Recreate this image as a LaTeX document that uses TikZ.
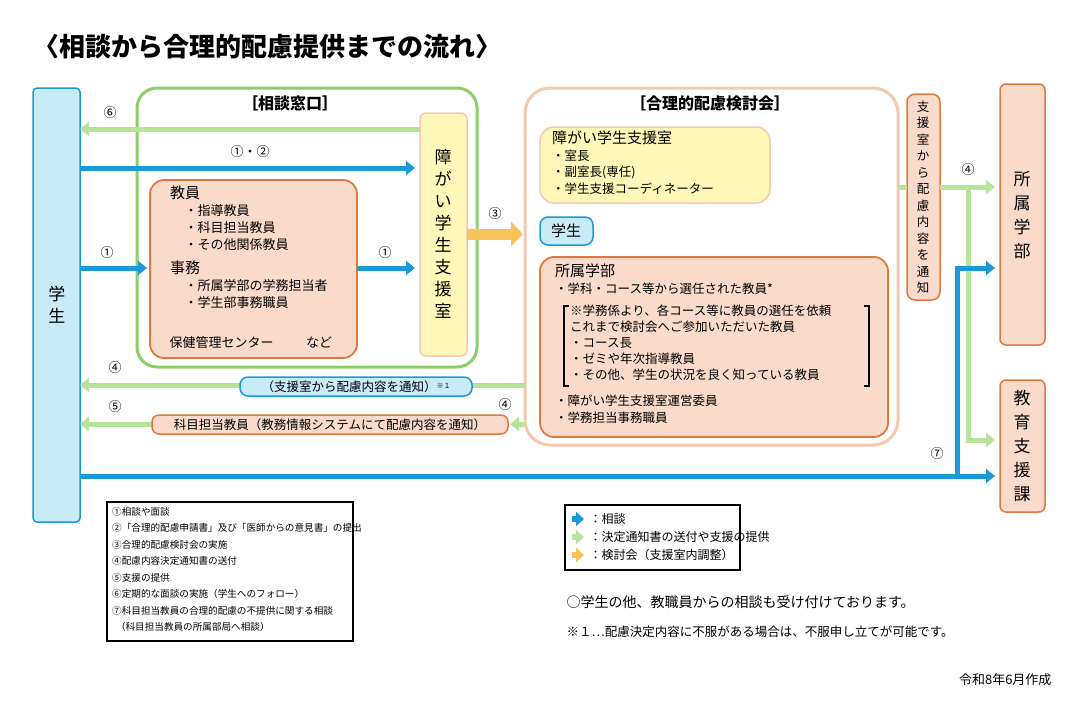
\documentclass[tikz,border=0pt]{standalone}
\usepackage{fontspec}
\setmainfont{Noto Sans CJK JP}
\usetikzlibrary{arrows.meta,calc}
\definecolor{bl}{HTML}{1A9AD6}\definecolor{lbl}{HTML}{C8EBF8}
\definecolor{gr}{HTML}{8CCF6A}\definecolor{lgr}{HTML}{B8E39A}
\definecolor{og}{HTML}{E07840}\definecolor{lor}{HTML}{FADBCB}
\definecolor{pk}{HTML}{F5C8B0}\definecolor{ye}{HTML}{FFF8B8}\definecolor{oa}{HTML}{FBC25A}
\begin{document}
\begin{tikzpicture}[x=1pt,y=-1pt,font=\fontsize{13}{15}\selectfont,
 box/.style={draw=og,line width=1.8pt,fill=lor,rounded corners=14pt},
 barr/.style={draw=bl,line width=5pt,-{Triangle[length=9pt,width=14pt]}},
 garr/.style={draw=lgr,line width=5pt,-{Triangle[length=9pt,width=14pt]}},
 num/.style={font=\fontsize{13}{13}\selectfont},
 lbl/.style={anchor=north west,align=left,inner sep=0pt}]
\useasboundingbox (0,0) rectangle (1080,702);
\fill[white] (0,0) rectangle (1080,702);
\node[anchor=west,font=\bfseries\fontsize{26}{26}\selectfont] (title) at (30,47) {〈相談から合理的配慮提供までの流れ〉};
% frames
\draw[gr,line width=3pt,rounded corners=20pt] (137,88) rectangle (477,367);
\node[font=\bfseries\fontsize{16}{16}\selectfont] (f1) at (290,103) {［相談窓口］};
\draw[pk,line width=3pt,rounded corners=25pt] (525,88) rectangle (898,445);
\node[font=\bfseries\fontsize{16}{16}\selectfont] (f2) at (710,103) {［合理的配慮検討会］};
% student
\draw[bl,line width=1.5pt,fill=lbl,rounded corners=4pt] (33,88) rectangle (80,522);
\node[align=center,font=\fontsize{17}{22}\selectfont] (st) at (57,305) {学\\生};
% support office
\draw[pk,line width=1.5pt,fill=ye,rounded corners=6pt] (420,113) rectangle (467,356);
\node[align=center,font=\fontsize{17}{22}\selectfont] (so) at (443,234) {障\\が\\い\\学\\生\\支\\援\\室};
% faculty box
\draw[box] (150,180) rectangle (357,358);
\node[lbl,font=\fontsize{13}{17}\selectfont] (fac) at (170,186) {{\fontsize{15}{17}\selectfont 教員}\\\hspace{1.1em}・指導教員\\\hspace{1.1em}・科目担当教員\\\hspace{1.1em}・その他関係教員\\[7pt]{\fontsize{15}{17}\selectfont 事務}\\\hspace{1.1em}・所属学部の学務担当者\\\hspace{1.1em}・学生部事務職員};
\node[anchor=west] (hk) at (166,343) {保健管理センター\hspace{2.5em}など};
% arrows left
\draw[garr] (420,129) -- (80,129); \node[num] at (110,113) {⑥};
\draw[barr] (80,168) -- (415,168); \node[num] at (250,152) {①・②};
\draw[barr] (80,268) -- (147,268); \node[num] at (107,253) {①};
\draw[barr] (357,268) -- (415,268); \node[num] at (385,253) {①};
\draw[draw=oa,line width=11pt,-{Triangle[length=12pt,width=24pt]}] (467,234) -- (523,234); \node[num] at (495,214) {③};
% committee content
\draw[pk,line width=1.5pt,fill=ye,rounded corners=14pt] (540,127) rectangle (770,203);
\node[lbl,font=\fontsize{12.5}{16.5}\selectfont] (yb) at (552,131) {{\fontsize{15}{17}\selectfont 障がい学生支援室}\\・室長\\・副室長(専任)\\・学生支援コーディネーター};
\draw[bl,line width=1.5pt,fill=lbl,rounded corners=8pt] (540,217) rectangle (593,245);
\node[font=\fontsize{15}{15}\selectfont] (st2) at (566,231) {学生};
\draw[box] (540,257) rectangle (888,437);
\node[lbl,font=\fontsize{12.5}{17}\selectfont] (sg) at (555,264) {{\fontsize{15}{17}\selectfont 所属学部}\\・学科・コース等から選任された教員*};
\node[lbl,font=\fontsize{12.5}{16}\selectfont] (sg2) at (570,305) {※学務係より、各コース等に教員の選任を依頼\\これまで検討会へご参加いただいた教員\\・コース長\\・ゼミや年次指導教員\\・その他、学生の状況を良く知っている教員};
\draw[line width=1.2pt] (569,306) -- (564,306) -- (564,386) -- (569,386);
\draw[line width=1.2pt] (864,306) -- (869,306) -- (869,386) -- (864,386);
\node[lbl,font=\fontsize{12.5}{17}\selectfont] (sg3) at (555,395) {・障がい学生支援室運営委員\\・学務担当事務職員};
% notify vertical
\draw[og,line width=1.5pt,fill=lor,rounded corners=8pt] (907,94) rectangle (940,300);
\node[align=center,font=\fontsize{12.5}{16.5}\selectfont] (nv) at (923,197) {支\\援\\室\\か\\ら\\配\\慮\\内\\容\\を\\通\\知};
% right boxes
\draw[og,line width=1.5pt,fill=lor,rounded corners=6pt] (1000,84) rectangle (1045,345);
\node[align=center,font=\fontsize{17}{24}\selectfont] (gb) at (1022,215) {所\\属\\学\\部};
\draw[og,line width=1.5pt,fill=lor,rounded corners=6pt] (1000,380) rectangle (1045,512);
\node[align=center,font=\fontsize{17}{24}\selectfont] (ks) at (1022,446) {教\\育\\支\\援\\課};
% right arrows
\draw[garr] (940,187) -- (995,187);
\draw[lgr,line width=5pt] (898,187) -- (907,187);
\draw[garr] (968,187) -- (968,440) -- (995,440);
\node[num] at (968,170) {④};
\draw[barr] (80,476) -- (995,476);
\draw[barr] (957,476) -- (957,268) -- (995,268);
\node[num] at (937,454) {⑦};
% bottom left arrows
\draw[garr] (525,385) -- (80,385); \node[num] at (115,368) {④};
\draw[bl,line width=1.5pt,fill=lbl,rounded corners=8pt] (240,377) rectangle (472,396);
\node[font=\fontsize{12.5}{12}\selectfont] (nt) at (356,386.5) {（支援室から配慮内容を通知）\raisebox{3pt}{\fontsize{7}{7}\selectfont ※１}};
\draw[garr] (525,424) -- (510,424); \node[num] at (505,405) {④};
\draw[garr] (152,424) -- (80,424); \node[num] at (115,407) {⑤};
\draw[og,line width=1.5pt,fill=lor,rounded corners=7pt] (152,415) rectangle (508,434);
\node[font=\fontsize{12.5}{12}\selectfont] (kt) at (330,424.5) {科目担当教員（教務情報システムにて配慮内容を通知）};
% legends
\draw[line width=1.2pt] (107,502) rectangle (353,641);
\node[lbl,font=\fontsize{9.6}{16.5}\selectfont] (lg) at (112,507) {①相談や面談\\②「合理的配慮申請書」及び「医師からの意見書」の提出\\③合理的配慮検討会の実施\\④配慮内容決定通知書の送付\\⑤支援の提供\\⑥定期的な面談の実施（学生へのフォロー）\\⑦科目担当教員の合理的配慮の不提供に関する相談\\\hspace{0.4em}（科目担当教員の所属部局へ相談）};
\draw[line width=1.2pt] (565,505) rectangle (740,570);
\coordinate (l1) at (584,519); \coordinate (l2) at (584,537); \coordinate (l3) at (584,555);
\draw[bl,line width=6pt,-{Triangle[length=8pt,width=14pt]}] ($(l1)+(-12,0)$) -- (l1);
\draw[lgr,line width=6pt,-{Triangle[length=8pt,width=14pt]}] ($(l2)+(-12,0)$) -- (l2);
\draw[oa,line width=6pt,-{Triangle[length=8pt,width=14pt]}] ($(l3)+(-12,0)$) -- (l3);
\node[anchor=west,font=\fontsize{12}{12}\selectfont] at (586,519) {：相談};
\node[anchor=west,font=\fontsize{12}{12}\selectfont] at (586,537) {：決定通知書の送付や支援の提供};
\node[anchor=west,font=\fontsize{12}{12}\selectfont] at (586,555) {：検討会（支援室内調整）};
\node[anchor=west,font=\fontsize{14}{12}\selectfont] (o1) at (563,602) {○学生の他、教職員からの相談も受け付けております。};
\node[anchor=west,font=\fontsize{12.5}{12}\selectfont] (o2) at (563,632) {※１…配慮決定内容に不服がある場合は、不服申し立てが可能です。};
\node[anchor=east,font=\fontsize{13}{12}\selectfont] (dt) at (1055,680) {令和8年6月作成};
\end{tikzpicture}
\end{document}
